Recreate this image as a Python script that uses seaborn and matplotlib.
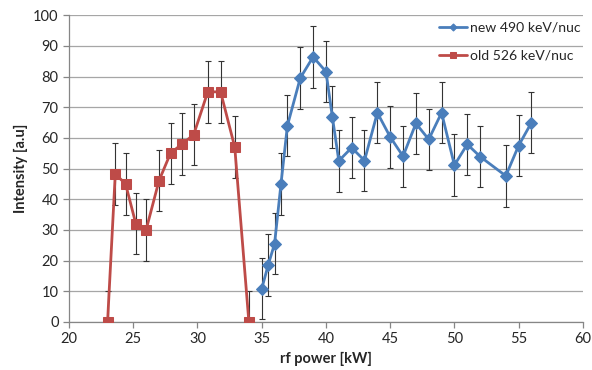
import matplotlib
matplotlib.use("Agg")
import matplotlib.pyplot as plt
import seaborn as sns
import pandas as pd

# new 490 keV/nuc
new_power = [35, 35.5, 36, 36.5, 37, 38, 39, 40, 40.5, 41, 42, 43, 44, 45, 46, 47, 48, 49, 50, 51, 52, 54, 55, 56]
new_intensity = [10.8, 18.5, 25.5, 45, 64, 79.5, 86.4, 81.6, 66.8, 52.5, 56.8, 52.6, 68.2, 60.3, 54, 64.7, 59.5, 68.2, 51.1, 57.9, 53.9, 47.6, 57.5, 65]
# old 526 keV/nuc
old_power = [23, 23.6, 24.4, 25.2, 26, 27, 27.9, 28.8, 29.7, 30.8, 31.8, 32.9, 34]
old_intensity = [0, 48.2, 45, 32, 30, 46, 55, 58, 61, 75, 75, 57, 0]
err = 10

blue = "#4a7ebb"
red = "#be4b48"

sns.set_style("white")
plt.rcParams["font.family"] = ["Lato", "DejaVu Sans"]

df_new = pd.DataFrame({"x": new_power, "y": new_intensity})
df_old = pd.DataFrame({"x": old_power, "y": old_intensity})

fig = plt.figure(figsize=(5.92, 3.70), dpi=100)
ax = fig.add_axes([0.1166, 0.13, 0.868, 0.829])

ax.errorbar(new_power, new_intensity, yerr=err, fmt="none", ecolor="#333333",
            elinewidth=0.8, capsize=2.5, capthick=0.8, zorder=2)
ax.errorbar(old_power, old_intensity, yerr=err, fmt="none", ecolor="#333333",
            elinewidth=0.8, capsize=2.5, capthick=0.8, zorder=2)

sns.lineplot(data=df_new, x="x", y="y", ax=ax, color=blue, marker="D", markersize=6,
             markeredgecolor=blue, linewidth=2, label="new 490 keV/nuc", zorder=3)
sns.lineplot(data=df_old, x="x", y="y", ax=ax, color=red, marker="s", markersize=7.5,
             markeredgecolor=red, linewidth=2, label="old 526 keV/nuc", zorder=3)

ax.set_xlim(20, 60)
ax.set_ylim(0, 100)
ax.set_xticks(range(20, 61, 5))
ax.set_yticks(range(0, 101, 10))
ax.yaxis.grid(True, color="#a6a6a6", linewidth=0.9)
ax.xaxis.grid(False)
for s in ["top", "right"]:
    ax.spines[s].set_visible(False)
for s in ["left", "bottom"]:
    ax.spines[s].set_color("#868686")
    ax.spines[s].set_linewidth(0.9)
ax.tick_params(axis="both", which="both", direction="out", length=4, width=0.9,
               color="#868686", labelsize=10.5, left=True, bottom=True)
ax.set_xlabel("rf power [kW]", fontsize=10.5, fontweight="bold")
ax.set_ylabel("Intensity [a.u]", fontsize=10.5, fontweight="bold")

ax.legend(loc="upper right", bbox_to_anchor=(1.02, 1.02), frameon=False, fontsize=10.1,
          handlelength=2.0, labelspacing=1.15, handletextpad=0.2, markerscale=0.6)

fig.savefig("out.png", dpi=100)
